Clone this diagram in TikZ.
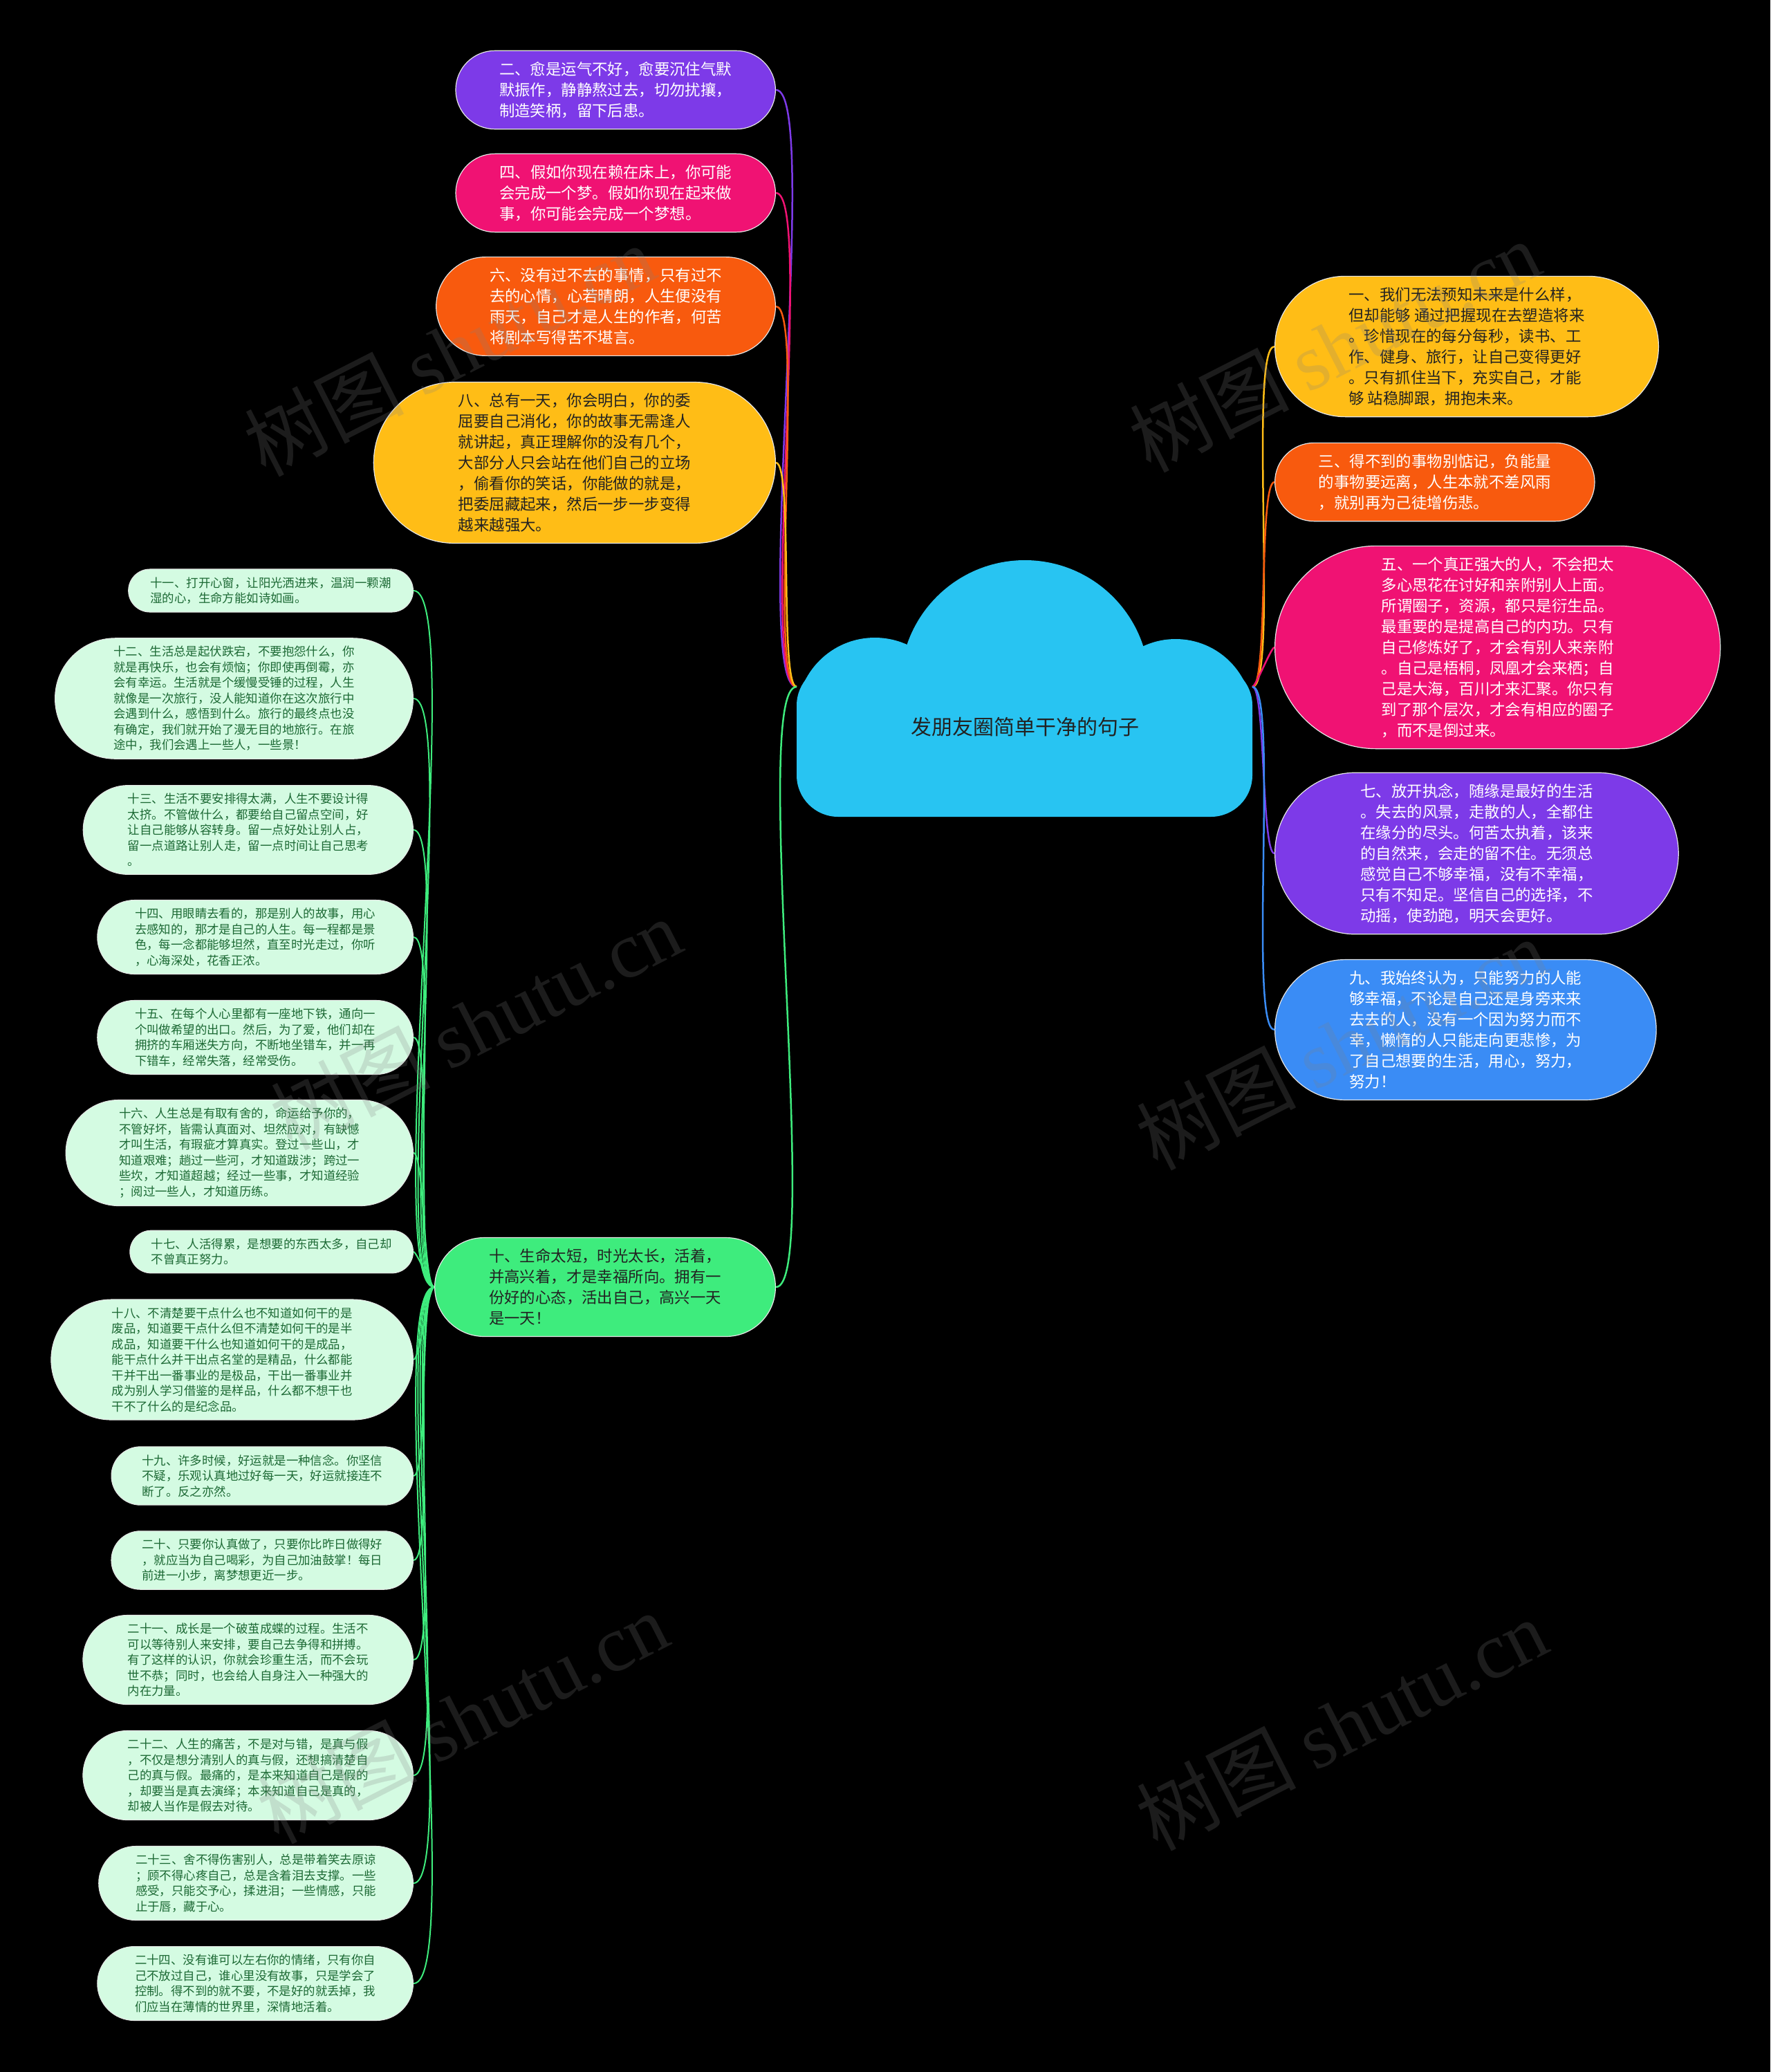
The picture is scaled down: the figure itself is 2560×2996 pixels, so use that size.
\documentclass[tikz,border=0pt]{standalone}
\usepackage{fontspec}
\setmainfont{Noto Sans CJK SC}
\newfontfamily\wmserif{Liberation Serif}
\usetikzlibrary{shapes.misc,backgrounds}

\definecolor{purp}{RGB}{125,58,232}
\definecolor{rose}{RGB}{240,18,115}
\definecolor{tang}{RGB}{248,90,14}
\definecolor{gold}{RGB}{255,189,22}
\definecolor{sky}{RGB}{58,140,245}
\definecolor{mint}{RGB}{62,236,125}
\definecolor{leafbg}{RGB}{212,251,226}
\definecolor{leafink}{RGB}{28,105,52}
\definecolor{cloudc}{RGB}{40,196,242}
\definecolor{ink}{RGB}{34,34,34}

\newcommand{\bigtxt}{\fontsize{22.4pt}{30pt}\selectfont}
\newcommand{\smalltxt}{\fontsize{17.4pt}{22.5pt}\selectfont}

\begin{document}
\begin{tikzpicture}[
  x=1pt, y=-1pt,
  branchbox/.style={rounded rectangle, fill=#1, draw=white!80!gray, line width=1.2pt,
    inner xsep=46pt, inner ysep=16pt, align=left, font=\bigtxt, text=white},
  leafbox/.style={rounded rectangle, fill=leafbg, draw=white!80!gray, line width=1pt,
    inner xsep=34pt, inner ysep=11.5pt, align=left, font=\smalltxt, text=leafink, anchor=east},
  link/.style={draw=#1, line width=2.5pt},
  wm/.style={rotate=27, opacity=0.22, text=gray, font=\fontsize{115pt}{115pt}\selectfont}
]
\begin{scope}[on background layer]
\fill[black] (0,0) rectangle (2560,2996);
\end{scope}

% central cloud
\fill[cloudc, rounded corners=60pt] (1152,960) rectangle (1811,1181);
\fill[cloudc] (1265,1035) circle[radius=113pt];
\fill[cloudc] (1700,1035) circle[radius=111pt];
\fill[cloudc] (1482,990) circle[radius=180pt];
\node[text=ink, font=\fontsize{30pt}{34pt}\selectfont] (hub) at (1482,1051) {发朋友圈简单干净的句子};
\coordinate (hubL) at (1152,993);
\coordinate (hubR) at (1811,993);

% upper left
\node[branchbox=purp, anchor=east] (q2) at (1122,130) {二、愈是运气不好，愈要沉住气默\\默振作，静静熬过去，切勿扰攘，\\制造笑柄，留下后患。};
\node[branchbox=rose, anchor=east] (q4) at (1122,279) {四、假如你现在赖在床上，你可能\\会完成一个梦。假如你现在起来做\\事，你可能会完成一个梦想。};
\node[branchbox=tang, anchor=east, inner xsep=51pt] (q6) at (1122,443) {六、没有过不去的事情，只有过不\\去的心情，心若晴朗，人生便没有\\雨天，自己才是人生的作者，何苦\\将剧本写得苦不堪言。};
\node[branchbox=gold, anchor=east, text=ink, inner xsep=65pt] (q8) at (1122,669) {八、总有一天，你会明白，你的委\\屈要自己消化，你的故事无需逢人\\就讲起，真正理解你的没有几个，\\大部分人只会站在他们自己的立场\\，偷看你的笑话，你能做的就是，\\把委屈藏起来，然后一步一步变得\\越来越强大。};

% right
\node[branchbox=gold, anchor=west, text=ink, inner xsep=60pt] (q1) at (1843,501) {一、我们无法预知未来是什么样，\\但却能够 通过把握现在去塑造将来\\。珍惜现在的每分每秒，读书、工\\作、健身、旅行，让自己变得更好\\。只有抓住当下，充实自己，才能\\够 站稳脚跟，拥抱未来。};
\node[branchbox=tang, anchor=west] (q3) at (1843,697) {三、得不到的事物别惦记，负能量\\的事物要远离，人生本就不差风雨\\，就别再为己徒增伤悲。};
\node[branchbox=rose, anchor=west, inner xsep=74pt] (q5) at (1843,936) {五、一个真正强大的人，不会把太\\多心思花在讨好和亲附别人上面。\\所谓圈子，资源，都只是衍生品。\\最重要的是提高自己的内功。只有\\自己修炼好了，才会有别人来亲附\\。自己是梧桐，凤凰才会来栖；自\\己是大海，百川才来汇聚。你只有\\到了那个层次，才会有相应的圈子\\，而不是倒过来。};
\node[branchbox=purp, anchor=west, inner xsep=66pt] (q7) at (1843,1234) {七、放开执念，随缘是最好的生活\\。失去的风景，走散的人，全都住\\在缘分的尽头。何苦太执着，该来\\的自然来，会走的留不住。无须总\\感觉自己不够幸福，没有不幸福，\\只有不知足。坚信自己的选择，不\\动摇，使劲跑，明天会更好。};
\node[branchbox=sky, anchor=west, inner xsep=61pt] (q9) at (1843,1489) {九、我始终认为，只能努力的人能\\够幸福，不论是自己还是身旁来来\\去去的人，没有一个因为努力而不\\幸，懒惰的人只能走向更悲惨，为\\了自己想要的生活，用心，努力，\\努力！};

% lower left branch
\node[branchbox=mint, anchor=east, text=ink, inner xsep=52pt] (q10) at (1122,1861) {十、生命太短，时光太长，活着，\\并高兴着，才是幸福所向。拥有一\\份好的心态，活出自己，高兴一天\\是一天！};

\node[leafbox, inner xsep=25pt] (q11) at (598,854) {十一、打开心窗，让阳光洒进来，温润一颗潮\\湿的心，生命方能如诗如画。};
\node[leafbox, inner xsep=41pt] (q12) at (598,1010) {十二、生活总是起伏跌宕，不要抱怨什么，你\\就是再快乐，也会有烦恼；你即使再倒霉，亦\\会有幸运。生活就是个缓慢受锤的过程，人生\\就像是一次旅行，没人能知道你在这次旅行中\\会遇到什么，感悟到什么。旅行的最终点也没\\有确定，我们就开始了漫无目的地旅行。在旅\\途中，我们会遇上一些人，一些景！};
\node[leafbox, inner xsep=37pt] (q13) at (598,1200) {十三、生活不要安排得太满，人生不要设计得\\太挤。不管做什么，都要给自己留点空间，好\\让自己能够从容转身。留一点好处让别人占，\\留一点道路让别人走，留一点时间让自己思考\\。};
\node[leafbox] (q14) at (598,1355) {十四、用眼睛去看的，那是别人的故事，用心\\去感知的，那才是自己的人生。每一程都是景\\色，每一念都能够坦然，直至时光走过，你听\\，心海深处，花香正浓。};
\node[leafbox] (q15) at (598,1500) {十五、在每个人心里都有一座地下铁，通向一\\个叫做希望的出口。然后，为了爱，他们却在\\拥挤的车厢迷失方向，不断地坐错车，并一再\\下错车，经常失落，经常受伤。};
\node[leafbox, inner xsep=41pt] (q16) at (598,1667) {十六、人生总是有取有舍的，命运给予你的，\\不管好坏，皆需认真面对、坦然应对，有缺憾\\才叫生活，有瑕疵才算真实。登过一些山，才\\知道艰难；趟过一些河，才知道跋涉；跨过一\\些坎，才知道超越；经过一些事，才知道经验\\；阅过一些人，才知道历练。};
\node[leafbox, inner xsep=24pt] (q17) at (598,1810) {十七、人活得累，是想要的东西太多，自己却\\不曾真正努力。};
\node[leafbox, inner xsep=44pt] (q18) at (598,1966) {十八、不清楚要干点什么也不知道如何干的是\\废品，知道要干点什么但不清楚如何干的是半\\成品，知道要干什么也知道如何干的是成品，\\能干点什么并干出点名堂的是精品，什么都能\\干并干出一番事业的是极品，干出一番事业并\\成为别人学习借鉴的是样品，什么都不想干也\\干不了什么的是纪念品。};
\node[leafbox, inner xsep=31pt] (q19) at (598,2134) {十九、许多时候，好运就是一种信念。你坚信\\不疑，乐观认真地过好每一天，好运就接连不\\断了。反之亦然。};
\node[leafbox, inner xsep=31pt] (q20) at (598,2256) {二十、只要你认真做了，只要你比昨日做得好\\，就应当为自己喝彩，为自己加油鼓掌！每日\\前进一小步，离梦想更近一步。};
\node[leafbox, inner xsep=37pt] (q21) at (598,2400) {二十一、成长是一个破茧成蝶的过程。生活不\\可以等待别人来安排，要自己去争得和拼搏。\\有了这样的认识，你就会珍重生活，而不会玩\\世不恭；同时，也会给人自身注入一种强大的\\内在力量。};
\node[leafbox, inner xsep=37pt] (q22) at (598,2567) {二十二、人生的痛苦，不是对与错，是真与假\\，不仅是想分清别人的真与假，还想搞清楚自\\己的真与假。最痛的，是本来知道自己是假的\\，却要当是真去演绎；本来知道自己是真的，\\却被人当作是假去对待。};
\node[leafbox, inner xsep=33pt] (q23) at (598,2723) {二十三、舍不得伤害别人，总是带着笑去原谅\\；顾不得心疼自己，总是含着泪去支撑。一些\\感受，只能交予心，揉进泪；一些情感，只能\\止于唇，藏于心。};
\node[leafbox] (q24) at (598,2868) {二十四、没有谁可以左右你的情绪，只有你自\\己不放过自己，谁心里没有故事，只是学会了\\控制。得不到的就不要，不是好的就丢掉，我\\们应当在薄情的世界里，深情地活着。};

% connectors
\begin{scope}[on background layer]
\draw[link=purp] (hubL) to[out=180,in=0,looseness=.2] (q2.east);
\draw[link=rose] (hubL) to[out=180,in=0,looseness=.2] (q4.east);
\draw[link=tang] (hubL) to[out=180,in=0,looseness=.2] (q6.east);
\draw[link=gold] (hubL) to[out=180,in=0,looseness=.2] (q8.east);
\draw[link=mint] (hubL) to[out=180,in=0,looseness=.2] (q10.east);
\draw[link=gold] (hubR) to[out=0,in=180,looseness=.2] (q1.west);
\draw[link=tang] (hubR) to[out=0,in=180,looseness=.2] (q3.west);
\draw[link=rose] (hubR) to[out=0,in=180,looseness=.2] (q5.west);
\draw[link=purp] (hubR) to[out=0,in=180,looseness=.2] (q7.west);
\draw[link=sky] (hubR) to[out=0,in=180,looseness=.2] (q9.west);
\foreach \k in {11,...,24}
  \draw[link=mint, line width=2pt] (q10.west) to[out=180,in=0,looseness=.2] (q\k.east);
\end{scope}

% watermarks
\node[wm] (wm1) at (650,506) {树图 {\wmserif shutu.cn}};
\node[wm] (wm2) at (1930,500) {树图 {\wmserif shutu.cn}};
\node[wm] (wm3) at (688,1480) {树图 {\wmserif shutu.cn}};
\node[wm] (wm4) at (1940,1509) {树图 {\wmserif shutu.cn}};
\node[wm] (wm5) at (669,2483) {树图 {\wmserif shutu.cn}};
\node[wm] (wm6) at (1940,2493) {树图 {\wmserif shutu.cn}};
\end{tikzpicture}
\end{document}
